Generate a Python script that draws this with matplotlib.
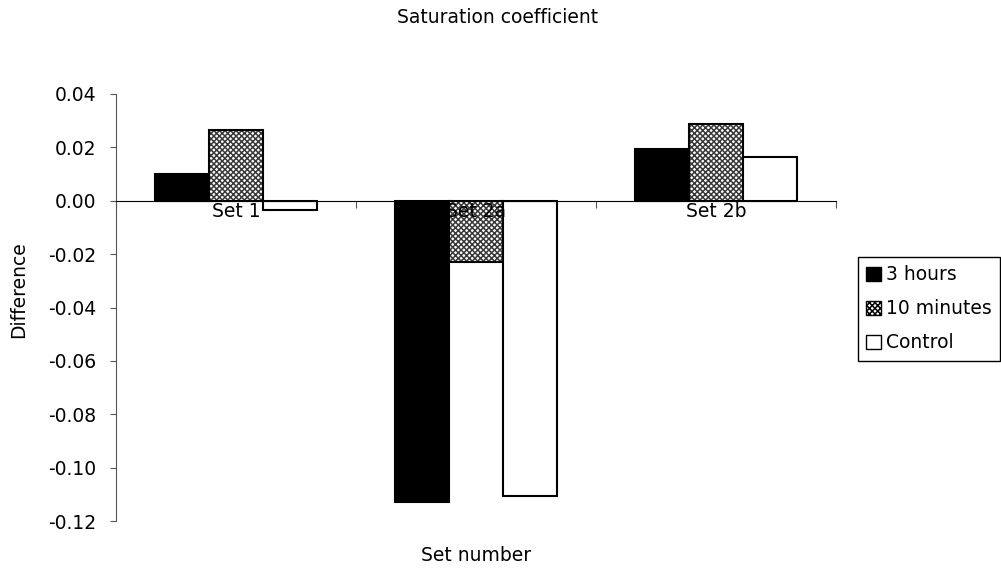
import numpy as np
import matplotlib
matplotlib.use("Agg")
import matplotlib.pyplot as plt
from matplotlib.patches import Patch

# DejaVu is a bit wider than Arial, which suits the stretched text of the original
plt.rcParams['font.family'] = ['DejaVu Sans']
plt.rcParams['axes.unicode_minus'] = False
plt.rcParams['hatch.linewidth'] = 1.1

# --- data ---
sets = ["Set 1", "Set 2a", "Set 2b"]
series = ["3 hours", "10 minutes", "Control"]
three_hours = [0.0101, -0.1130, 0.0195]
ten_minutes = [0.0263, -0.0229, 0.0289]
control = [-0.0034, -0.1107, 0.0165]
yticks = [0.04, 0.02, 0.00, -0.02, -0.04, -0.06, -0.08, -0.10, -0.12]

FS = 13.5

fig = plt.figure(figsize=(10.01, 5.72), dpi=100)
ax = fig.add_axes([0.1159, 0.089, 0.7193, 0.7468])

x = np.arange(len(sets))
w = 0.225

ax.bar(x - w, three_hours, w, color='black', edgecolor='black', linewidth=1.5)
# hatched bars: hatch drawn in grey, outline drawn on top in black
ax.bar(x, ten_minutes, w, color='white', edgecolor='#3a3a3a', hatch='xxxxxx', linewidth=0)
ax.bar(x, ten_minutes, w, fill=False, edgecolor='black', linewidth=1.5)
ax.bar(x + w, control, w, color='white', edgecolor='black', linewidth=1.5)

ax.set_xlim(-0.5, 2.5)
ax.set_ylim(-0.12, 0.04)
ax.set_yticks(yticks)
ax.set_yticklabels([f"{v:.2f}" for v in yticks])

# category axis sits on the zero line
for s in ['top', 'right']:
    ax.spines[s].set_visible(False)
ax.spines['bottom'].set_position(('data', 0))
ax.spines['bottom'].set_color('black')
ax.spines['left'].set_color('#555555')
ax.set_xticks([-0.5, 0.5, 1.5, 2.5])
ax.set_xticklabels([])
ax.set_xticks(x, minor=True)
ax.set_xticklabels(sets, minor=True)
ax.tick_params(axis='x', which='major', length=5, color='#555555', direction='out')
ax.tick_params(axis='x', which='minor', length=0, pad=1, labelsize=FS)
ax.tick_params(axis='y', length=4.5, color='#555555', pad=9.5, labelsize=FS)

ax.set_ylabel("Difference", fontsize=FS)
ax.yaxis.set_label_coords(-0.122, 0.541)
ax.set_xlabel("Set number", fontsize=FS)
ax.xaxis.set_label_coords(0.5, -0.058)

fig.text(0.4975, 0.970, "Saturation coefficient", ha='center', va='center', fontsize=FS)

handles = [
    Patch(facecolor='black', edgecolor='black'),
    Patch(facecolor='white', edgecolor='black', hatch='xxxxxx'),
    Patch(facecolor='white', edgecolor='black'),
]
leg = fig.legend(handles, series, loc='upper left', bbox_to_anchor=(0.857, 0.5507),
                 fontsize=FS, frameon=True, fancybox=False, framealpha=1,
                 edgecolor='black', handlelength=0.8, handleheight=0.8,
                 handletextpad=0.25, borderpad=0.45, labelspacing=0.8, borderaxespad=0)
leg.get_frame().set_linewidth(1.0)

fig.savefig("out.png", dpi=100)
